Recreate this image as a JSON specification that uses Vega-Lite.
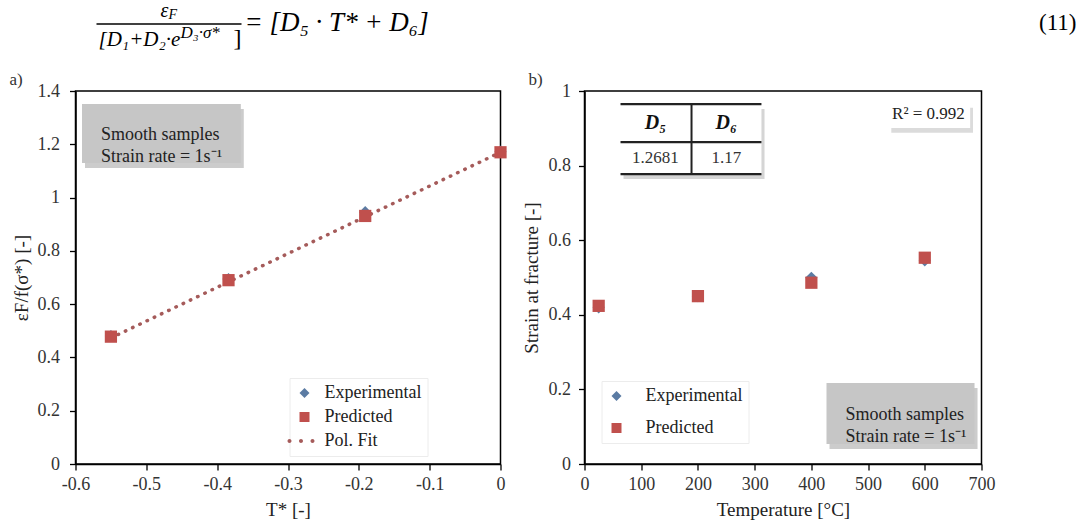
{
  "$schema": "https://vega.github.io/schema/vega-lite/v6.json",
  "padding": {"left": 8.5, "top": 0, "right": 0, "bottom": 0},
  "spacing": 19,
  "config": {
    "font": "Liberation Serif",
    "view": {"stroke": "#000", "strokeWidth": 1.5},
    "axis": {"domainColor": "#000", "domainWidth": 1.5, "tickColor": "#000", "tickWidth": 1.3, "tickSize": 6, "grid": false,
      "labelFont": "Liberation Serif", "labelFontSize": 18, "labelColor": "#333",
      "titleFont": "Liberation Serif", "titleFontSize": 19, "titleFontWeight": "normal", "titleColor": "#222"},
    "axisX": {"labelPadding": 5, "titlePadding": 7},
    "axisY": {"labelPadding": 10, "titlePadding": 6},
    "legend": {"labelFont": "Liberation Serif", "labelFontSize": 18, "labelColor": "#222", "symbolSize": 100, "symbolOpacity": 1}
  },
  "vconcat": [
    {
      "width": 1002, "height": 50,
      "view": {"stroke": null},
      "data": {"values": [{}]},
      "layer": [
        {"mark": {"type": "text", "text": "ε", "fontStyle": "italic", "fontSize": 20, "align": "right", "baseline": "middle"},
         "encoding": {"x": {"datum": 169, "type": "quantitative", "scale": {"domain": [76, 1078]}, "axis": null},
                      "y": {"datum": 11, "type": "quantitative", "scale": {"domain": [0, 50], "reverse": true}, "axis": null}}},
        {"mark": {"type": "text", "text": "F", "fontStyle": "italic", "fontSize": 14, "align": "left", "baseline": "middle"},
         "encoding": {"x": {"datum": 169, "type": "quantitative", "scale": {"domain": [76, 1078]}, "axis": null},
                      "y": {"datum": 15, "type": "quantitative", "scale": {"domain": [0, 50], "reverse": true}, "axis": null}}},
        {"mark": {"type": "rule", "color": "#000", "strokeWidth": 1.4},
         "encoding": {"x": {"datum": 97, "type": "quantitative", "scale": {"domain": [76, 1078]}, "axis": null}, "x2": {"datum": 242},
                      "y": {"datum": 24, "type": "quantitative", "scale": {"domain": [0, 50], "reverse": true}, "axis": null}}},
        {"mark": {"type": "text", "text": "[D₁+D₂·e", "fontStyle": "italic", "fontSize": 21, "align": "left", "baseline": "middle"},
         "encoding": {"x": {"datum": 99, "type": "quantitative", "scale": {"domain": [76, 1078]}, "axis": null},
                      "y": {"datum": 40, "type": "quantitative", "scale": {"domain": [0, 50], "reverse": true}, "axis": null}}},
        {"mark": {"type": "text", "text": "D₃·σ*", "fontStyle": "italic", "fontSize": 17, "align": "left", "baseline": "middle"},
         "encoding": {"x": {"datum": 181, "type": "quantitative", "scale": {"domain": [76, 1078]}, "axis": null},
                      "y": {"datum": 33, "type": "quantitative", "scale": {"domain": [0, 50], "reverse": true}, "axis": null}}},
        {"mark": {"type": "text", "text": "]", "fontSize": 24, "align": "right", "baseline": "middle"},
         "encoding": {"x": {"datum": 242, "type": "quantitative", "scale": {"domain": [76, 1078]}, "axis": null},
                      "y": {"datum": 39, "type": "quantitative", "scale": {"domain": [0, 50], "reverse": true}, "axis": null}}},
        {"mark": {"type": "text", "text": "= [D₅ · T* + D₆]", "fontStyle": "italic", "fontSize": 27, "align": "left", "baseline": "middle"},
         "encoding": {"x": {"datum": 245, "type": "quantitative", "scale": {"domain": [76, 1078]}, "axis": null},
                      "y": {"datum": 23, "type": "quantitative", "scale": {"domain": [0, 50], "reverse": true}, "axis": null}}},
        {"mark": {"type": "text", "text": "(11)", "fontSize": 23, "align": "right", "baseline": "middle"},
         "encoding": {"x": {"datum": 1077, "type": "quantitative", "scale": {"domain": [76, 1078]}, "axis": null},
                      "y": {"datum": 23, "type": "quantitative", "scale": {"domain": [0, 50], "reverse": true}, "axis": null}}}
      ]
    },
    {
      "spacing": 12,
      "resolve": {"scale": {"color": "independent", "shape": "independent"}, "legend": {"color": "independent", "shape": "independent"}},
      "hconcat": [
        {
          "width": 425, "height": 373,
          "title": {"text": "a)", "anchor": "start", "frame": "group", "dx": -66, "offset": -7, "fontSize": 17, "font": "Liberation Serif", "fontWeight": "normal", "color": "#333"},
          "layer": [
            {"data": {"values": [{}]}, "mark": {"type": "rect", "color": "#8f8f8f", "opacity": 0.45},
             "encoding": {"x": {"datum": -0.5866, "type": "quantitative", "scale": {"domain": [-0.6, 0], "nice": false, "zero": false}}, "x2": {"datum": -0.3624},
                          "y": {"datum": 1.332, "type": "quantitative", "scale": {"domain": [0, 1.4], "nice": false}}, "y2": {"datum": 1.111}}},
            {"data": {"values": [{}]}, "mark": {"type": "rect", "color": "#c6c6c6", "opacity": 1},
             "encoding": {"x": {"datum": -0.5908, "type": "quantitative", "scale": {"domain": [-0.6, 0], "nice": false, "zero": false}}, "x2": {"datum": -0.3666},
                          "y": {"datum": 1.351, "type": "quantitative", "scale": {"domain": [0, 1.4], "nice": false}}, "y2": {"datum": 1.130}}},
            {"data": {"values": [{}]}, "mark": {"type": "text", "text": ["Smooth samples", "Strain rate = 1s⁻¹"], "lineHeight": 22, "fontSize": 18, "align": "left", "baseline": "middle", "color": "#222"},
             "encoding": {"x": {"datum": -0.564, "type": "quantitative", "scale": {"domain": [-0.6, 0], "nice": false, "zero": false}},
                          "y": {"datum": 1.235, "type": "quantitative", "scale": {"domain": [0, 1.4], "nice": false}}}},
            {"data": {"values": [{"T": -0.55, "fit": 0.473}, {"T": 0, "fit": 1.17}]},
             "mark": {"type": "line", "color": "#A55B5A", "strokeWidth": 3.5, "strokeDash": [0.5, 7.5], "strokeCap": "round"},
             "encoding": {"x": {"field": "T", "type": "quantitative", "scale": {"domain": [-0.6, 0], "nice": false, "zero": false}},
                          "y": {"field": "fit", "type": "quantitative", "scale": {"domain": [0, 1.4], "nice": false}}}},
            {"data": {"values": [
                {"T": -0.55, "value": 0.48, "series": "Experimental"},
                {"T": -0.384, "value": 0.694, "series": "Experimental"},
                {"T": -0.191, "value": 0.945, "series": "Experimental"},
                {"T": 0, "value": 1.172, "series": "Experimental"},
                {"T": -0.55, "value": 0.478, "series": "Predicted"},
                {"T": -0.384, "value": 0.69, "series": "Predicted"},
                {"T": -0.191, "value": 0.931, "series": "Predicted"},
                {"T": 0, "value": 1.17, "series": "Predicted"}]},
             "mark": {"type": "point", "filled": true, "size": 150, "opacity": 1},
             "encoding": {
               "x": {"field": "T", "type": "quantitative", "scale": {"domain": [-0.6, 0], "nice": false, "zero": false},
                     "axis": {"title": "T* [-]", "values": [-0.6, -0.55, -0.5, -0.45, -0.4, -0.35, -0.3, -0.25, -0.2, -0.15, -0.1, -0.05, 0],
                              "labelExpr": "round(datum.value*20)%2==0 ? (datum.value<0 ? '-'+format(-datum.value,'~g') : format(datum.value,'~g')) : ''",
                              "labelFlush": false, "labelOverlap": false}},
               "y": {"field": "value", "type": "quantitative", "scale": {"domain": [0, 1.4], "nice": false},
                     "axis": {"title": "εF/f(σ*) [-]", "values": [0, 0.1, 0.2, 0.3, 0.4, 0.5, 0.6, 0.7, 0.8, 0.9, 1, 1.1, 1.2, 1.3, 1.4],
                              "labelExpr": "round(datum.value*10)%2==0 ? format(datum.value,'~g') : ''", "labelOverlap": false, "labelFlush": false}},
               "color": {"field": "series", "type": "nominal",
                         "scale": {"domain": ["Experimental", "Predicted", "Pol. Fit"], "range": ["#5B7BA3", "#C0504D", "#A55B5A"]},
                         "legend": {"title": null, "orient": "none", "legendX": 214, "legendY": 287, "labelOffset": 11, "rowPadding": 6, "padding": 6,
                                    "strokeColor": "#ececec", "fillColor": "#ffffff"}},
               "shape": {"field": "series", "type": "nominal",
                         "scale": {"domain": ["Experimental", "Predicted", "Pol. Fit"],
                                   "range": ["diamond", "square", "M-3.4,0a0.4,0.4 0 1,0 0.8,0a0.4,0.4 0 1,0 -0.8,0Z M-1.1,0a0.4,0.4 0 1,0 0.8,0a0.4,0.4 0 1,0 -0.8,0Z M1.2,0a0.4,0.4 0 1,0 0.8,0a0.4,0.4 0 1,0 -0.8,0Z"]},
                         "legend": {"title": null, "orient": "none", "legendX": 214, "legendY": 287, "labelOffset": 11, "rowPadding": 6, "padding": 6,
                                    "strokeColor": "#ececec", "fillColor": "#ffffff"}}
             }}
          ]
        },
        {
          "width": 397, "height": 373,
          "title": {"text": "b)", "anchor": "start", "frame": "group", "dx": -56, "offset": -7, "fontSize": 17, "font": "Liberation Serif", "fontWeight": "normal", "color": "#333"},
          "layer": [
            {"data": {"values": [{}]}, "mark": {"type": "rect", "color": "#888", "opacity": 0.35},
             "encoding": {"x": {"datum": 68.8, "type": "quantitative", "scale": {"domain": [0, 700], "nice": false}}, "x2": {"datum": 317.4},
                          "y": {"datum": 0.952, "type": "quantitative", "scale": {"domain": [0, 1], "nice": false}}, "y2": {"datum": 0.764}}},
            {"data": {"values": [{}]}, "mark": {"type": "rect", "color": "#ffffff", "opacity": 1},
             "encoding": {"x": {"datum": 63.5, "type": "quantitative", "scale": {"domain": [0, 700], "nice": false}}, "x2": {"datum": 312},
                          "y": {"datum": 0.965, "type": "quantitative", "scale": {"domain": [0, 1], "nice": false}}, "y2": {"datum": 0.777}}},
            {"data": {"values": [{}]}, "mark": {"type": "rule", "color": "#222", "strokeWidth": 2.2},
             "encoding": {"x": {"datum": 63.5, "type": "quantitative", "scale": {"domain": [0, 700], "nice": false}}, "x2": {"datum": 312},
                          "y": {"datum": 0.965, "type": "quantitative", "scale": {"domain": [0, 1], "nice": false}}}},
            {"data": {"values": [{}]}, "mark": {"type": "rule", "color": "#222", "strokeWidth": 2.2},
             "encoding": {"x": {"datum": 63.5, "type": "quantitative", "scale": {"domain": [0, 700], "nice": false}}, "x2": {"datum": 312},
                          "y": {"datum": 0.863, "type": "quantitative", "scale": {"domain": [0, 1], "nice": false}}}},
            {"data": {"values": [{}]}, "mark": {"type": "rule", "color": "#222", "strokeWidth": 2.2},
             "encoding": {"x": {"datum": 63.5, "type": "quantitative", "scale": {"domain": [0, 700], "nice": false}}, "x2": {"datum": 312},
                          "y": {"datum": 0.777, "type": "quantitative", "scale": {"domain": [0, 1], "nice": false}}}},
            {"data": {"values": [{}]}, "mark": {"type": "rule", "color": "#222", "strokeWidth": 2},
             "encoding": {"x": {"datum": 188.7, "type": "quantitative", "scale": {"domain": [0, 700], "nice": false}},
                          "y": {"datum": 0.965, "type": "quantitative", "scale": {"domain": [0, 1], "nice": false}}, "y2": {"datum": 0.777}}},
            {"data": {"values": [{}]}, "mark": {"type": "text", "text": "D₅", "fontStyle": "italic", "fontWeight": "bold", "fontSize": 20, "align": "center", "baseline": "middle", "color": "#111"},
             "encoding": {"x": {"datum": 125, "type": "quantitative", "scale": {"domain": [0, 700], "nice": false}},
                          "y": {"datum": 0.914, "type": "quantitative", "scale": {"domain": [0, 1], "nice": false}}}},
            {"data": {"values": [{}]}, "mark": {"type": "text", "text": "D₆", "fontStyle": "italic", "fontWeight": "bold", "fontSize": 20, "align": "center", "baseline": "middle", "color": "#111"},
             "encoding": {"x": {"datum": 250, "type": "quantitative", "scale": {"domain": [0, 700], "nice": false}},
                          "y": {"datum": 0.914, "type": "quantitative", "scale": {"domain": [0, 1], "nice": false}}}},
            {"data": {"values": [{}]}, "mark": {"type": "text", "text": "1.2681", "fontSize": 17, "align": "center", "baseline": "middle", "color": "#333"},
             "encoding": {"x": {"datum": 125, "type": "quantitative", "scale": {"domain": [0, 700], "nice": false}},
                          "y": {"datum": 0.82, "type": "quantitative", "scale": {"domain": [0, 1], "nice": false}}}},
            {"data": {"values": [{}]}, "mark": {"type": "text", "text": "1.17", "fontSize": 17, "align": "center", "baseline": "middle", "color": "#333"},
             "encoding": {"x": {"datum": 250, "type": "quantitative", "scale": {"domain": [0, 700], "nice": false}},
                          "y": {"datum": 0.82, "type": "quantitative", "scale": {"domain": [0, 1], "nice": false}}}},
            {"data": {"values": [{}]}, "mark": {"type": "rect", "color": "#888", "opacity": 0.3},
             "encoding": {"x": {"datum": 541, "type": "quantitative", "scale": {"domain": [0, 700], "nice": false}}, "x2": {"datum": 685},
                          "y": {"datum": 0.955, "type": "quantitative", "scale": {"domain": [0, 1], "nice": false}}, "y2": {"datum": 0.888}}},
            {"data": {"values": [{}]}, "mark": {"type": "rect", "color": "#ffffff", "opacity": 1},
             "encoding": {"x": {"datum": 536, "type": "quantitative", "scale": {"domain": [0, 700], "nice": false}}, "x2": {"datum": 680},
                          "y": {"datum": 0.968, "type": "quantitative", "scale": {"domain": [0, 1], "nice": false}}, "y2": {"datum": 0.901}}},
            {"data": {"values": [{}]}, "mark": {"type": "text", "text": "R² = 0.992", "fontSize": 17, "align": "center", "baseline": "middle", "color": "#222"},
             "encoding": {"x": {"datum": 606.5, "type": "quantitative", "scale": {"domain": [0, 700], "nice": false}},
                          "y": {"datum": 0.938, "type": "quantitative", "scale": {"domain": [0, 1], "nice": false}}}},
            {"data": {"values": [{}]}, "mark": {"type": "rect", "color": "#8f8f8f", "opacity": 0.45},
             "encoding": {"x": {"datum": 432, "type": "quantitative", "scale": {"domain": [0, 700], "nice": false}}, "x2": {"datum": 693},
                          "y": {"datum": 0.204, "type": "quantitative", "scale": {"domain": [0, 1], "nice": false}}, "y2": {"datum": 0.04}}},
            {"data": {"values": [{}]}, "mark": {"type": "rect", "color": "#c6c6c6", "opacity": 1},
             "encoding": {"x": {"datum": 426.7, "type": "quantitative", "scale": {"domain": [0, 700], "nice": false}}, "x2": {"datum": 687.7},
                          "y": {"datum": 0.217, "type": "quantitative", "scale": {"domain": [0, 1], "nice": false}}, "y2": {"datum": 0.0536}}},
            {"data": {"values": [{}]}, "mark": {"type": "text", "text": ["Smooth samples", "Strain rate = 1s⁻¹"], "lineHeight": 22, "fontSize": 18, "align": "left", "baseline": "middle", "color": "#222"},
             "encoding": {"x": {"datum": 460, "type": "quantitative", "scale": {"domain": [0, 700], "nice": false}},
                          "y": {"datum": 0.131, "type": "quantitative", "scale": {"domain": [0, 1], "nice": false}}}},
            {"data": {"values": [
                {"temp": 25, "strain": 0.42, "series": "Experimental"},
                {"temp": 200, "strain": 0.45, "series": "Experimental"},
                {"temp": 400, "strain": 0.499, "series": "Experimental"},
                {"temp": 600, "strain": 0.546, "series": "Experimental"},
                {"temp": 25, "strain": 0.424, "series": "Predicted"},
                {"temp": 200, "strain": 0.45, "series": "Predicted"},
                {"temp": 400, "strain": 0.486, "series": "Predicted"},
                {"temp": 600, "strain": 0.553, "series": "Predicted"}]},
             "mark": {"type": "point", "filled": true, "size": 150, "opacity": 1},
             "encoding": {
               "x": {"field": "temp", "type": "quantitative", "scale": {"domain": [0, 700], "nice": false},
                     "axis": {"title": "Temperature [°C]", "values": [0, 50, 100, 150, 200, 250, 300, 350, 400, 450, 500, 550, 600, 650, 700],
                              "format": "d", "labelExpr": "datum.value % 100 == 0 ? datum.label : ''", "labelFlush": false, "labelOverlap": false}},
               "y": {"field": "strain", "type": "quantitative", "scale": {"domain": [0, 1], "nice": false},
                     "axis": {"title": "Strain at fracture [-]", "values": [0, 0.1, 0.2, 0.3, 0.4, 0.5, 0.6, 0.7, 0.8, 0.9, 1],
                              "labelExpr": "round(datum.value*10)%2==0 ? format(datum.value,'~g') : ''", "labelOverlap": false, "labelFlush": false,
                              "labelPadding": 8, "titlePadding": 7}},
               "color": {"field": "series", "type": "nominal",
                         "scale": {"domain": ["Experimental", "Predicted"], "range": ["#5B7BA3", "#C0504D"]},
                         "legend": {"title": null, "orient": "none", "legendX": 17, "legendY": 290, "labelOffset": 20, "rowPadding": 14, "padding": 6,
                                    "strokeColor": "#ececec", "fillColor": "#ffffff"}},
               "shape": {"field": "series", "type": "nominal",
                         "scale": {"domain": ["Experimental", "Predicted"], "range": ["diamond", "square"]},
                         "legend": {"title": null, "orient": "none", "legendX": 17, "legendY": 290, "labelOffset": 20, "rowPadding": 14, "padding": 6,
                                    "strokeColor": "#ececec", "fillColor": "#ffffff"}}
             }}
          ]
        }
      ]
    }
  ]
}
